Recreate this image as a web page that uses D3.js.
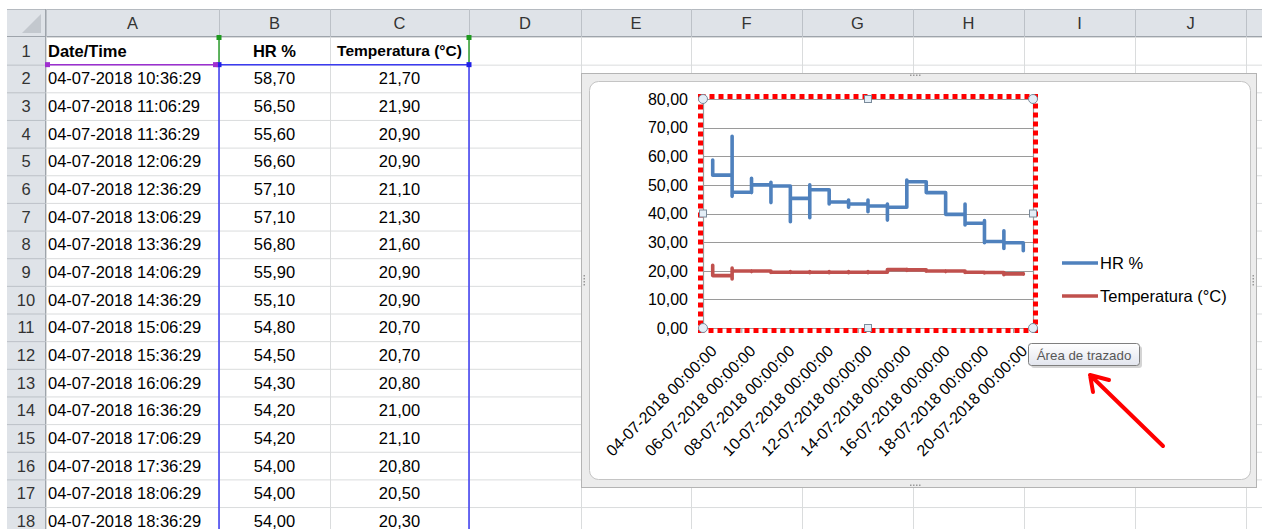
<!DOCTYPE html>
<html>
<head>
<meta charset="utf-8">
<script src="https://cdn.jsdelivr.net/npm/d3@7"></script>
<style>
body { margin: 0; background: #fff; }
svg { display: block; font-family: "Liberation Sans", Arial, sans-serif; }
</style>
</head>
<body>
<svg width="1262" height="529"></svg>
<script>
// spreadsheet columns / rows
var colLetters = ["A", "B", "C", "D", "E", "F", "G", "H", "I", "J"];
var colEdges = [46, 219, 330, 469, 581, 691, 802, 913, 1024, 1135, 1246];
var headers = ["Date/Time", "HR %", "Temperatura (°C)"];

var dateTimes = ["04-07-2018 10:36:29", "04-07-2018 11:06:29", "04-07-2018 11:36:29", "04-07-2018 12:06:29",
  "04-07-2018 12:36:29", "04-07-2018 13:06:29", "04-07-2018 13:36:29", "04-07-2018 14:06:29",
  "04-07-2018 14:36:29", "04-07-2018 15:06:29", "04-07-2018 15:36:29", "04-07-2018 16:06:29",
  "04-07-2018 16:36:29", "04-07-2018 17:06:29", "04-07-2018 17:36:29", "04-07-2018 18:06:29",
  "04-07-2018 18:36:29"];
var hrCol = [58.7, 56.5, 55.6, 56.6, 57.1, 57.1, 56.8, 55.9, 55.1, 54.8, 54.5, 54.3, 54.2, 54.2, 54.0, 54.0, 54.0];
var tempCol = [21.7, 21.9, 20.9, 20.9, 21.1, 21.3, 21.6, 20.9, 20.9, 20.7, 20.7, 20.8, 21.0, 21.1, 20.8, 20.5, 20.3];

// chart: one entry per day (04-07 .. 20-07), readings stack at the day's position
var days = d3.timeDay.range(new Date(2018, 6, 4), new Date(2018, 6, 21));
var hrHigh = [58.7, 67.0, 52.3, 50.9, 49.6, 50.0, 48.3, 44.7, 44.7, 43.3, 51.7, 51.1, 47.3, 43.3, 37.5, 34.0, 29.8];
var hrLow  = [53.4, 46.0, 47.3, 43.8, 37.1, 38.5, 43.3, 42.2, 40.6, 37.7, 42.2, 47.3, 40.1, 36.0, 29.8, 27.8, 27.0];
var hrEnd  = [53.4, 47.4, 50.0, 49.6, 45.3, 48.3, 44.0, 43.3, 42.6, 42.2, 51.1, 47.3, 39.7, 36.6, 30.2, 29.8, 27.4];
var tHigh  = [21.9, 20.9, 20.0, 19.9, 19.7, 19.7, 19.7, 19.7, 19.7, 20.4, 20.5, 20.3, 20.0, 19.9, 19.5, 19.4, 19.0];
var tLow   = [18.3, 17.1, 19.7, 19.4, 19.4, 19.3, 19.3, 19.3, 19.3, 19.5, 20.1, 19.8, 19.7, 19.4, 19.2, 18.6, 18.8];
var tEnd   = [18.3, 19.9, 19.9, 19.5, 19.5, 19.5, 19.5, 19.5, 19.5, 20.4, 20.3, 19.9, 19.9, 19.5, 19.4, 18.9, 18.9];
var seriesNames = ["HR %", "Temperatura (°C)"];
var seriesColors = ["#4f81bd", "#c0504d"];

var svg = d3.select("svg");
var es = d3.formatLocale({decimal: ",", thousands: ".", grouping: [3], currency: ["", "€"]});
var f2 = es.format(".2f");

// ---- sheet ----
var headTop = 9, headBottom = 37, rowH = 27.65;
var rowY = function(i) { return headBottom + i * rowH; };   // top of row i+1
var nRows = 18;

var grid = svg.append("g");
d3.range(nRows + 1).forEach(function(i) {
  grid.append("line").attr("x1", 46).attr("x2", 1262).attr("y1", rowY(i) + .5).attr("y2", rowY(i) + .5)
    .attr("stroke", "#dadcdd");
});
colEdges.forEach(function(x) {
  grid.append("line").attr("x1", x + .5).attr("x2", x + .5).attr("y1", headBottom).attr("y2", 529)
    .attr("stroke", "#dadcdd");
});

// headers
svg.append("rect").attr("x", 7).attr("y", headTop).attr("width", 1255).attr("height", headBottom - headTop)
  .attr("fill", "#dfe3e8");
svg.append("rect").attr("x", 7).attr("y", headBottom).attr("width", 39).attr("height", 529 - headBottom)
  .attr("fill", "#dfe3e8");
svg.append("line").attr("x1", 7).attr("x2", 1262).attr("y1", headTop + .5).attr("y2", headTop + .5).attr("stroke", "#b5bac0");
svg.append("line").attr("x1", 7).attr("x2", 1262).attr("y1", headBottom - .5).attr("y2", headBottom - .5).attr("stroke", "#9ea4ab");
svg.append("line").attr("x1", 45.5).attr("x2", 45.5).attr("y1", headTop).attr("y2", 529).attr("stroke", "#9ea4ab");
svg.append("path").attr("d", "M41,14 L41,33 L22,33 Z").attr("fill", "#c3c8ce");

colEdges.forEach(function(x0) {
  svg.append("line").attr("x1", x0 + .5).attr("x2", x0 + .5).attr("y1", headTop).attr("y2", headBottom).attr("stroke", "#bcc1c7");
});
colLetters.forEach(function(c, i) {
  var x0 = colEdges[i], x1 = colEdges[i + 1];
  svg.append("text").attr("x", (x0 + x1) / 2).attr("y", (headTop + headBottom) / 2).attr("dy", "0.36em")
    .attr("text-anchor", "middle").attr("font-size", 16.5).attr("fill", "#333").text(c);
});
d3.range(nRows).forEach(function(i) {
  svg.append("line").attr("x1", 7).attr("x2", 46).attr("y1", rowY(i + 1) + .5).attr("y2", rowY(i + 1) + .5).attr("stroke", "#bcc1c7");
  svg.append("text").attr("x", 26).attr("y", rowY(i) + rowH / 2).attr("dy", "0.36em")
    .attr("text-anchor", "middle").attr("font-size", 16.5).attr("fill", "#333").text(i + 1);
});

// cells
var cells = svg.append("g").attr("font-size", 16.5).attr("fill", "#000");
cells.append("text").attr("x", 48).attr("y", rowY(0) + rowH / 2).attr("dy", "0.36em").attr("font-weight", "bold").text(headers[0]);
cells.append("text").attr("x", 274.5).attr("y", rowY(0) + rowH / 2).attr("dy", "0.36em").attr("text-anchor", "middle").attr("font-weight", "bold").text(headers[1]);
cells.append("text").attr("x", 399.5).attr("y", rowY(0) + rowH / 2).attr("dy", "0.36em").attr("text-anchor", "middle").attr("font-weight", "bold").attr("font-size", 15.5).text(headers[2]);
dateTimes.forEach(function(d, i) {
  var cy = rowY(i + 1) + rowH / 2;
  cells.append("text").attr("x", 48).attr("y", cy).attr("dy", "0.36em").text(d);
  cells.append("text").attr("x", 274.5).attr("y", cy).attr("dy", "0.36em").attr("text-anchor", "middle").text(f2(hrCol[i]));
  cells.append("text").attr("x", 399.5).attr("y", cy).attr("dy", "0.36em").attr("text-anchor", "middle").text(f2(tempCol[i]));
});

// data range highlights
var r2 = rowY(1);
svg.append("line").attr("x1", 46).attr("x2", 219).attr("y1", r2).attr("y2", r2).attr("stroke", "#9b30d0").attr("stroke-width", 1.5);
svg.append("line").attr("x1", 219).attr("x2", 469).attr("y1", r2).attr("y2", r2).attr("stroke", "#3b3bf0").attr("stroke-width", 1.5);
[219, 469].forEach(function(x) {
  svg.append("line").attr("x1", x).attr("x2", x).attr("y1", headBottom).attr("y2", r2).attr("stroke", "#2e9e2e").attr("stroke-width", 1.5);
  svg.append("line").attr("x1", x).attr("x2", x).attr("y1", r2).attr("y2", 529).attr("stroke", "#3b3bf0").attr("stroke-width", 1.5);
  svg.append("rect").attr("x", x - 2.5).attr("y", headBottom - 2).attr("width", 5).attr("height", 5).attr("fill", "#1f9a1f");
  svg.append("rect").attr("x", x - 2.5).attr("y", r2 - 2.5).attr("width", 5).attr("height", 5).attr("fill", "#2020e8");
});
svg.append("rect").attr("x", 45).attr("y", r2 - 2.5).attr("width", 5).attr("height", 5).attr("fill", "#a030d0");
svg.append("rect").attr("x", 213).attr("y", r2 - 2.5).attr("width", 5).attr("height", 5).attr("fill", "#a030d0");

// ---- chart object ----
var chart = svg.append("g");
chart.append("rect").attr("x", 581.5).attr("y", 73.5).attr("width", 675).attr("height", 414)
  .attr("fill", "#ececec").attr("stroke", "#b4b4b4");
chart.append("rect").attr("x", 589.5).attr("y", 81.5).attr("width", 661).attr("height", 398).attr("rx", 9)
  .attr("fill", "#fff").attr("stroke", "#c4c4c4");
[[916, 75.5], [916, 485.5]].forEach(function(p) {
  d3.range(4).forEach(function(k) {
    chart.append("rect").attr("x", p[0] - 6 + k * 3).attr("y", p[1] - 1).attr("width", 1.5).attr("height", 1.5).attr("fill", "#999");
  });
});
[[584.5, 281], [1253.5, 281]].forEach(function(p) {
  d3.range(4).forEach(function(k) {
    chart.append("rect").attr("x", p[0] - 1).attr("y", p[1] - 6 + k * 3).attr("width", 1.5).attr("height", 1.5).attr("fill", "#999");
  });
});

var px0 = 703, px1 = 1033, py0 = 99, py1 = 328;
var x = d3.scaleTime().domain([days[0], d3.timeDay.offset(days[days.length - 1], 1)]).range([px0, px1]);
var y = d3.scaleLinear().domain([0, 80]).range([py1, py0]);
var mid = function(d) { return x(d3.timeHour.offset(d, 12)); };

var yTicks = d3.range(0, 81, 10);
chart.selectAll(".grid").data(yTicks).enter().append("line")
  .attr("x1", px0).attr("x2", px1)
  .attr("y1", function(d) { return Math.round(y(d)) + .5; }).attr("y2", function(d) { return Math.round(y(d)) + .5; })
  .attr("stroke", "#9a9a9a").attr("stroke-width", 1.2);
chart.append("line").attr("x1", px0 + .5).attr("x2", px0 + .5).attr("y1", py0).attr("y2", py1).attr("stroke", "#9a9a9a").attr("stroke-width", 1.2);
chart.append("line").attr("x1", px1 + .5).attr("x2", px1 + .5).attr("y1", py0).attr("y2", py1).attr("stroke", "#9a9a9a").attr("stroke-width", 1.2);

chart.selectAll(".ylab").data(yTicks).enter().append("text")
  .attr("x", 688).attr("y", function(d) { return y(d); }).attr("dy", "0.36em")
  .attr("text-anchor", "end").attr("font-size", 16).attr("fill", "#000").text(f2);

var labelDays = days.filter(function(d, i) { return i % 2 === 0; });
chart.selectAll(".xtick").data(labelDays).enter().append("line")
  .attr("x1", function(d) { return x(d); }).attr("x2", function(d) { return x(d); })
  .attr("y1", py1).attr("y2", py1 + 5).attr("stroke", "#9a9a9a");
var fmt = d3.timeFormat("%d-%m-%Y %H:%M:%S");
chart.selectAll(".xlab").data(labelDays).enter().append("text")
  .attr("transform", function(d) { return "translate(" + (mid(d) + 1) + "," + (py1 + 20) + ") rotate(-45)"; })
  .attr("dy", "0.36em").attr("text-anchor", "end").attr("font-size", 16).attr("fill", "#000")
  .text(fmt);

function dailyPoints(high, low, end, first) {
  var pts = [];
  days.forEach(function(d, i) {
    var start = i === 0 ? first : end[i - 1];
    [start, high[i], low[i], end[i]].forEach(function(v) { pts.push([mid(d), v]); });
  });
  return pts;
}
var line = d3.line().x(function(p) { return p[0]; }).y(function(p) { return y(p[1]); });
var series = [dailyPoints(hrHigh, hrLow, hrEnd, hrCol[0]), dailyPoints(tHigh, tLow, tEnd, tempCol[0])];
series.forEach(function(pts, i) {
  chart.append("path").attr("d", line(pts)).attr("fill", "none").attr("stroke", seriesColors[i])
    .attr("stroke-width", 3.6).attr("stroke-linejoin", "round").attr("stroke-linecap", "round");
});

// legend
seriesNames.forEach(function(n, i) {
  var ly = 263 + i * 33;
  chart.append("line").attr("x1", 1062).attr("x2", 1098).attr("y1", ly).attr("y2", ly)
    .attr("stroke", seriesColors[i]).attr("stroke-width", 3.6);
  chart.append("text").attr("x", 1100).attr("y", ly).attr("dy", "0.36em").attr("font-size", 16.5).attr("fill", "#000").text(n);
});

// plot area selection
chart.append("rect").attr("x", px0 - 2.5).attr("y", py0 - 2.5).attr("width", px1 - px0 + 5).attr("height", py1 - py0 + 5)
  .attr("fill", "none").attr("stroke", "#ff0000").attr("stroke-width", 5).attr("stroke-dasharray", "5,4");
[[px0, py0], [px1, py0], [px0, py1], [px1, py1]].forEach(function(p) {
  chart.append("circle").attr("cx", p[0]).attr("cy", p[1]).attr("r", 4.5).attr("fill", "#e4eef7").attr("stroke", "#7a8a9a");
});
[[(px0 + px1) / 2, py0], [(px0 + px1) / 2, py1], [px0, (py0 + py1) / 2], [px1, (py0 + py1) / 2]].forEach(function(p) {
  chart.append("rect").attr("x", p[0] - 3.5).attr("y", p[1] - 3.5).attr("width", 7).attr("height", 7)
    .attr("fill", "#e4eef7").attr("stroke", "#7a8a9a");
});

// tooltip
var grad = svg.append("defs").append("linearGradient").attr("id", "tip").attr("x1", 0).attr("x2", 0).attr("y1", 0).attr("y2", 1);
grad.append("stop").attr("offset", 0).attr("stop-color", "#ffffff");
grad.append("stop").attr("offset", 1).attr("stop-color", "#e2e5ee");
svg.append("rect").attr("x", 1031).attr("y", 346).attr("width", 111).attr("height", 22).attr("rx", 3).attr("fill", "#b8b8b8").attr("opacity", .6);
svg.append("rect").attr("x", 1028.5).attr("y", 343.5).attr("width", 111).attr("height", 22).attr("rx", 3)
  .attr("fill", "url(#tip)").attr("stroke", "#7f7f7f");
svg.append("text").attr("x", 1084).attr("y", 355).attr("dy", "0.36em").attr("text-anchor", "middle")
  .attr("font-size", 13.3).attr("fill", "#575757").text("Área de trazado");

// arrow
svg.append("path").attr("d", "M1163,446 L1090,375 M1090,375 L1093,392 M1090,375 L1109,380")
  .attr("fill", "none").attr("stroke", "#ff0000").attr("stroke-width", 4).attr("stroke-linecap", "round");
</script>
</body>
</html>
